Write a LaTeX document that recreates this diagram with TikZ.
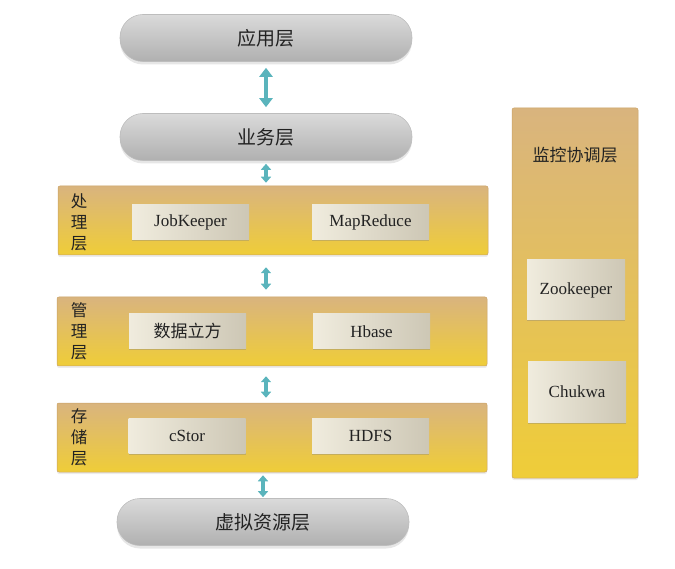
\documentclass[tikz,border=0pt]{standalone}
\usepackage{fontspec}
\usepackage{xcolor}
\usepackage{tikz}
\usetikzlibrary{shapes,arrows.meta,positioning,calc,shadows}
\newfontfamily\cjk{Noto Sans CJK SC}
\newfontfamily\serif{Liberation Serif}

\definecolor{pillTop}{HTML}{DADADA}
\definecolor{pillMid}{HTML}{F7F7F7}
\definecolor{pillBot}{HTML}{B0B0B0}
\definecolor{pillEdge}{HTML}{BDBDBD}
\definecolor{goldTop}{HTML}{D9B47E}
\definecolor{goldBot}{HTML}{EFCD38}
\definecolor{goldEdge}{HTML}{C9A266}
\definecolor{compL}{HTML}{F0ECDE}
\definecolor{compR}{HTML}{CDC7B5}
\definecolor{teal}{HTML}{5AB4BC}
\definecolor{ink}{HTML}{222222}

\tikzset{
    pill/.style={rectangle, rounded corners=23pt, minimum width=292pt, minimum height=47pt,
        top color=pillTop, middle color=pillMid, bottom color=pillBot, draw=pillEdge,
        line width=0.6pt, drop shadow={shadow xshift=0pt, shadow yshift=-3pt, opacity=0.2},
        text=ink, font=\cjk\fontsize{19}{21}\selectfont},
    layer/.style={rectangle, rounded corners=2pt, minimum width=430pt, minimum height=69pt,
        top color=goldTop, bottom color=goldBot, draw=goldEdge, line width=0.5pt,
        drop shadow={shadow xshift=0pt, shadow yshift=-2pt, opacity=0.15}},
    comp/.style={rectangle, minimum width=117pt, minimum height=35pt,
        left color=compL, right color=compR, draw=none, text=ink,
        drop shadow={shadow xshift=0pt, shadow yshift=-1.5pt, opacity=0.35},
        font=\serif\fontsize{17}{19}\selectfont},
    side/.style={font=\cjk\fontsize{16.5}{21}\selectfont, align=center, inner sep=0pt, text=ink},
    dbl/.style={teal, line width=4.5pt,
        {Triangle[width=13pt,length=9pt]}-{Triangle[width=13pt,length=9pt]}},
    dbls/.style={teal, line width=3.5pt,
        {Triangle[width=10pt,length=6pt]}-{Triangle[width=10pt,length=6pt]}}
}

\begin{document}
\begin{tikzpicture}[x=1pt,y=-1pt]
    \useasboundingbox (0,0) rectangle (675,569);

    % Top layers
    \node[pill] (app) at (266,38) {\raisebox{-4pt}{应用层}};
    \node[pill] (biz) at (266,137) {\raisebox{-4pt}{业务层}};

    % Processing layer
    \node[layer] (proc) at (273,220.5) {};
    \node[side] (procl) at (79,222) {处\\理\\层};
    \node[comp] (jobkeeper) at (190.5,222.5) {JobKeeper};
    \node[comp] (mapreduce) at (370.5,222.5) {MapReduce};

    % Management layer
    \node[layer] (mgmt) at (272,331.5) {};
    \node[side] (mgmtl) at (79,331) {管\\理\\层};
    \node[comp, font=\cjk\fontsize{17}{19}\selectfont] (cube) at (187.5,331.5) {数据立方};
    \node[comp] (hbase) at (371.5,331.5) {Hbase};

    % Storage layer
    \node[layer] (stor) at (272,437.5) {};
    \node[side] (storl) at (79,437) {存\\储\\层};
    \node[comp] (cstor) at (187,436) {cStor};
    \node[comp] (hdfs) at (370.5,436) {HDFS};

    % Virtual resources
    \node[pill] (virt) at (263,522) {\raisebox{-2pt}{虚拟资源层}};

    % Monitoring and coordination
    \node[layer, minimum width=126pt, minimum height=370pt] (mon) at (575,293) {};
    \node[text=ink, font=\cjk\fontsize{17}{19}\selectfont] (monl) at (575,155) {监控协调层};
    \node[comp, minimum width=98pt, minimum height=60pt] (zk) at (576,290) {Zookeeper};
    \node[comp, minimum width=98pt, minimum height=60pt] (chukwa) at (577,392) {Chukwa};

    % Arrows between layers
    \draw[dbl, shorten <=6pt, shorten >=6pt] (app.south) -- (biz.north);
    \draw[dbls, shorten <=3pt, shorten >=3pt] (biz.south) -- (app.south |- proc.north);
    \draw[dbls, shorten <=12pt, shorten >=7pt] (app.south |- proc.south) -- (app.south |- mgmt.north);
    \draw[dbls, shorten <=10pt, shorten >=5pt] (app.south |- mgmt.south) -- (app.south |- stor.north);
    \draw[dbls, shorten <=3pt, shorten >=1pt] (virt.north |- stor.south) -- (virt.north);
\end{tikzpicture}
\end{document}
